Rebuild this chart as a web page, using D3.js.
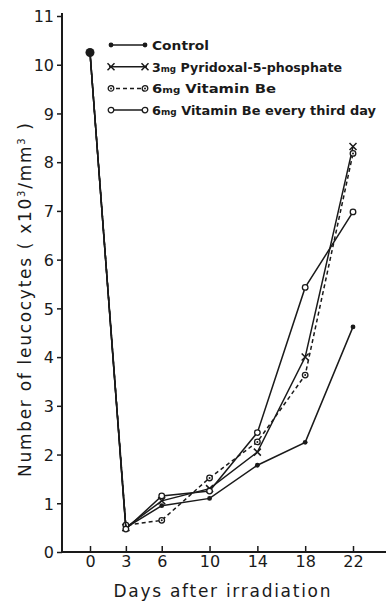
<!DOCTYPE html>
<html>
<head>
<meta charset="utf-8">
<script src="https://cdn.jsdelivr.net/npm/d3@7"></script>
<style>
  body { margin: 0; background: #fff; }
  svg { display: block; font-family: "DejaVu Sans", sans-serif; }
</style>
</head>
<body>
<svg id="chart"></svg>
<script>
// days after irradiation (x ticks) and y ticks
var days = [0, 3, 6, 10, 14, 18, 22];
var yTicks = [0, 1, 2, 3, 4, 5, 6, 7, 8, 9, 10, 11];

// leucocytes x10^3/mm^3
var control    = [10.25, 0.50, 0.95, 1.10, 1.78, 2.25, 4.62];
var pyridoxal  = [10.25, 0.50, 1.05, 1.30, 2.05, 4.00, 8.32];
var vitB6      = [10.25, 0.55, 0.65, 1.52, 2.26, 3.63, 8.18];
var vitB6third = [10.25, 0.47, 1.15, 1.25, 2.45, 5.43, 6.98];

var seriesNames = ["Control", "3mg Pyridoxal-5-phosphate", "6mg Vitamin Be", "6mg Vitamin Be every third day"];
// widths the legend labels take up in the figure
var legendWidths = [57, 190, 124, 224];

var svgWidth = 386, svgHeight = 603;
var svg = d3.select("#chart").attr("width", svgWidth).attr("height", svgHeight);

var axisX = 62;   // where the y axis sits
var ink = "#1a1a1a";

var x = d3.scaleLinear().domain([0, 22]).range([90, 353]);
var y = d3.scaleLinear().domain([0, 11]).range([552, 16]);

// axis lines
svg.append("line")
  .attr("x1", axisX).attr("x2", axisX)
  .attr("y1", y(11) - 3).attr("y2", y(0))
  .attr("stroke", ink).attr("stroke-width", 2);
svg.append("line")
  .attr("x1", axisX).attr("x2", svgWidth)
  .attr("y1", y(0)).attr("y2", y(0))
  .attr("stroke", ink).attr("stroke-width", 2);

// y axis ticks
var yAxis = d3.axisLeft(y).tickValues(yTicks).tickSize(5).tickPadding(3).tickFormat(d3.format("d"));
var yGroup = svg.append("g").attr("transform", "translate(" + axisX + ",0)").call(yAxis);
yGroup.select(".domain").remove();
yGroup.selectAll("line").attr("stroke", ink).attr("stroke-width", 1.5);
yGroup.selectAll("text").attr("fill", ink).style("font-size", "16px")
  .style("font-family", "DejaVu Sans").attr("dy", "0.36em");

// x axis ticks (pointing up into the plot)
var xAxis = d3.axisBottom(x).tickValues(days).tickSize(-6).tickPadding(5).tickFormat(d3.format("d"));
var xGroup = svg.append("g").attr("transform", "translate(0," + y(0) + ")").call(xAxis);
xGroup.select(".domain").remove();
xGroup.selectAll("line").attr("stroke", ink).attr("stroke-width", 1.5);
xGroup.selectAll("text").attr("fill", ink).style("font-size", "16px")
  .style("font-family", "DejaVu Sans").attr("dy", "0.6em");

// axis titles
svg.append("text")
  .attr("x", 222).attr("y", 597)
  .attr("text-anchor", "middle")
  .attr("textLength", 217).attr("lengthAdjust", "spacing")
  .style("font-size", "17px").attr("fill", ink)
  .text("Days after irradiation");

var yTitle = svg.append("text")
  .attr("transform", "translate(31,300) rotate(-90)")
  .attr("text-anchor", "middle")
  .attr("textLength", 354).attr("lengthAdjust", "spacing")
  .style("font-size", "17px").attr("fill", ink);
yTitle.append("tspan").text("Number of leucocytes ( x10");
yTitle.append("tspan").attr("dy", -6).style("font-size", "10px").text("3");
yTitle.append("tspan").attr("dy", 6).text("/mm");
yTitle.append("tspan").attr("dy", -6).style("font-size", "10px").text("3");
yTitle.append("tspan").attr("dy", 6).text(" )");

// series
var series = [
  { name: seriesNames[0], values: control,    dash: null,  marker: "dot" },
  { name: seriesNames[1], values: pyridoxal,  dash: null,  marker: "cross" },
  { name: seriesNames[2], values: vitB6,      dash: "4,3", marker: "ringdot" },
  { name: seriesNames[3], values: vitB6third, dash: null,  marker: "ring" }
];

var line = d3.line()
  .x(function(d) { return x(d[0]); })
  .y(function(d) { return y(d[1]); });

function drawMarker(g, kind, cx, cy) {
  if (kind === "dot") {
    g.append("circle").attr("cx", cx).attr("cy", cy).attr("r", 2.4).attr("fill", ink);
  } else if (kind === "cross") {
    var s = 3.5;
    g.append("path")
      .attr("d", "M" + (cx - s) + "," + (cy - s) + "L" + (cx + s) + "," + (cy + s) +
                 "M" + (cx - s) + "," + (cy + s) + "L" + (cx + s) + "," + (cy - s))
      .attr("stroke", ink).attr("stroke-width", 1.5);
  } else if (kind === "ringdot") {
    g.append("circle").attr("cx", cx).attr("cy", cy).attr("r", 2.8)
      .attr("fill", "#fff").attr("stroke", ink).attr("stroke-width", 1.3);
    g.append("circle").attr("cx", cx).attr("cy", cy).attr("r", 1).attr("fill", ink);
  } else {
    g.append("circle").attr("cx", cx).attr("cy", cy).attr("r", 2.8)
      .attr("fill", "#fff").attr("stroke", ink).attr("stroke-width", 1.3);
  }
}

var plot = svg.append("g");
series.forEach(function(s) {
  var pts = days.map(function(d, i) { return [d, s.values[i]]; });
  plot.append("path")
    .attr("d", line(pts))
    .attr("fill", "none")
    .attr("stroke", ink)
    .attr("stroke-width", 1.5)
    .attr("stroke-dasharray", s.dash);
  var mg = plot.append("g");
  pts.slice(1).forEach(function(p) { drawMarker(mg, s.marker, x(p[0]), y(p[1])); });
});

// shared starting value at day 0
plot.append("circle")
  .attr("cx", x(days[0])).attr("cy", y(control[0]))
  .attr("r", 4.5).attr("fill", ink);

// legend
var legend = svg.append("g").attr("transform", "translate(107,45)");
series.forEach(function(s, i) {
  var row = legend.append("g").attr("transform", "translate(0," + (i * 21.7) + ")");
  row.append("line").attr("x1", 2).attr("x2", 40).attr("y1", 0).attr("y2", 0)
    .attr("stroke", ink).attr("stroke-width", 1.5).attr("stroke-dasharray", s.dash);
  drawMarker(row, s.marker, 4, 0);
  drawMarker(row, s.marker, 38, 0);
  var t = row.append("text").attr("x", 45).attr("y", 5)
    .attr("textLength", legendWidths[i]).attr("lengthAdjust", "spacingAndGlyphs")
    .style("font-size", "13px").style("font-weight", "bold").attr("fill", ink);
  var m = s.name.match(/^(\d)mg (.*)$/);
  if (m) {
    t.append("tspan").text(m[1]);
    t.append("tspan").style("font-size", "9px").text("mg");
    t.append("tspan").text(" " + m[2]);
  } else {
    t.text(s.name);
  }
});
</script>
</body>
</html>
